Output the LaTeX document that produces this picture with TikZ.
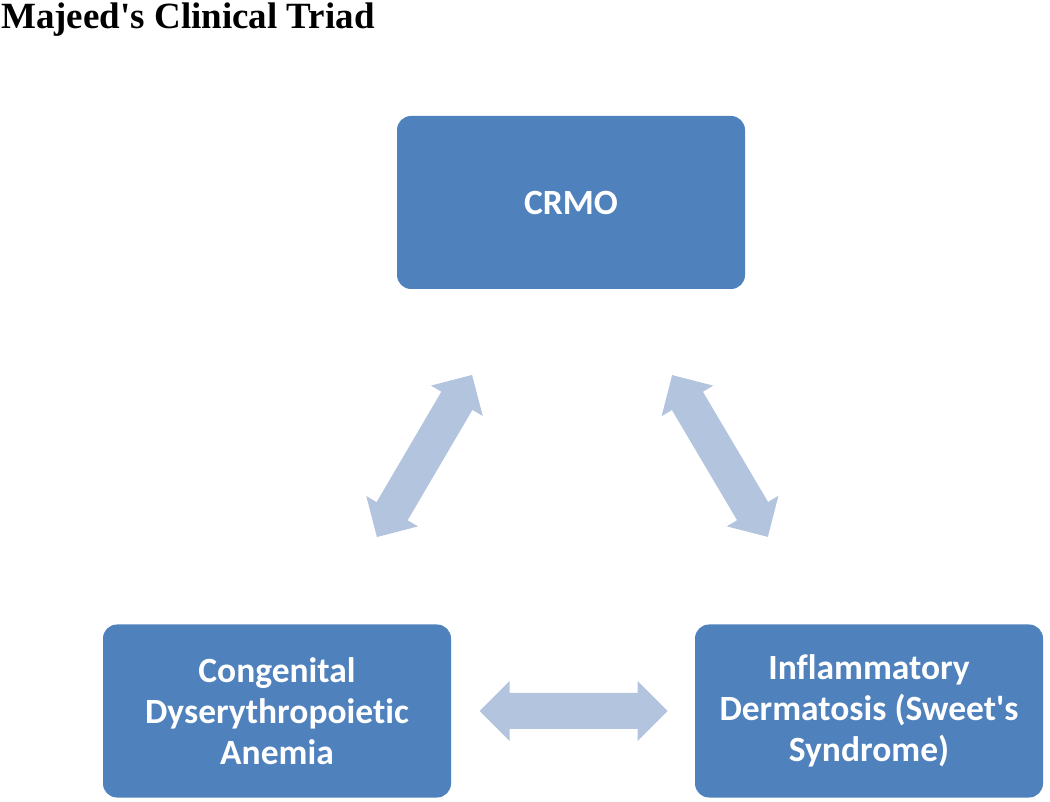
\documentclass[tikz,border=0pt]{standalone}
\usepackage{fontspec}
\newfontfamily\titlefont{Liberation Serif}
\newfontfamily\boxfont[Ligatures=NoCommon]{Carlito}
\definecolor{boxblue}{HTML}{4F81BD}
\definecolor{arrowblue}{HTML}{B3C4DE}
\tikzset{
  box/.style={fill=boxblue, rounded corners=14pt, minimum width=348pt, minimum height=173pt,
    inner sep=0pt, text=white, align=center,
    font=\boxfont\bfseries\fontsize{35.5}{41}\selectfont},
  dblarrow/.pic={
    \fill[arrowblue] (-94,0) -- (-64,30) -- (-64,18) -- (64,18) -- (64,30) -- (94,0)
      -- (64,-30) -- (64,-18) -- (-64,-18) -- (-64,-30) -- cycle;
  }
}
\begin{document}
\begin{tikzpicture}[x=1pt,y=1pt]
\useasboundingbox (0,0) rectangle (1050,801);
\node[anchor=base west, inner sep=0pt, font=\titlefont\bfseries\fontsize{37}{44}\selectfont]
  (title) at (1,772.5) {Majeed\textquotesingle s Clinical Triad};
\node[box] (crmo) at (571,598.5) {CRMO};
\node[box] (cda) at (277,90) {Congenital\\Dyserythropoietic\\Anemia};
\node[box] (ids) at (869,90) {Inflammatory\\Dermatosis (Sweet\textquotesingle s\\Syndrome)};
\pic[rotate=59.6] (a1) at (424.5,345) {dblarrow};
\pic[rotate=120.6] (a2) at (720,345) {dblarrow};
\pic (a3) at (573.5,90) {dblarrow};
\end{tikzpicture}
\end{document}
